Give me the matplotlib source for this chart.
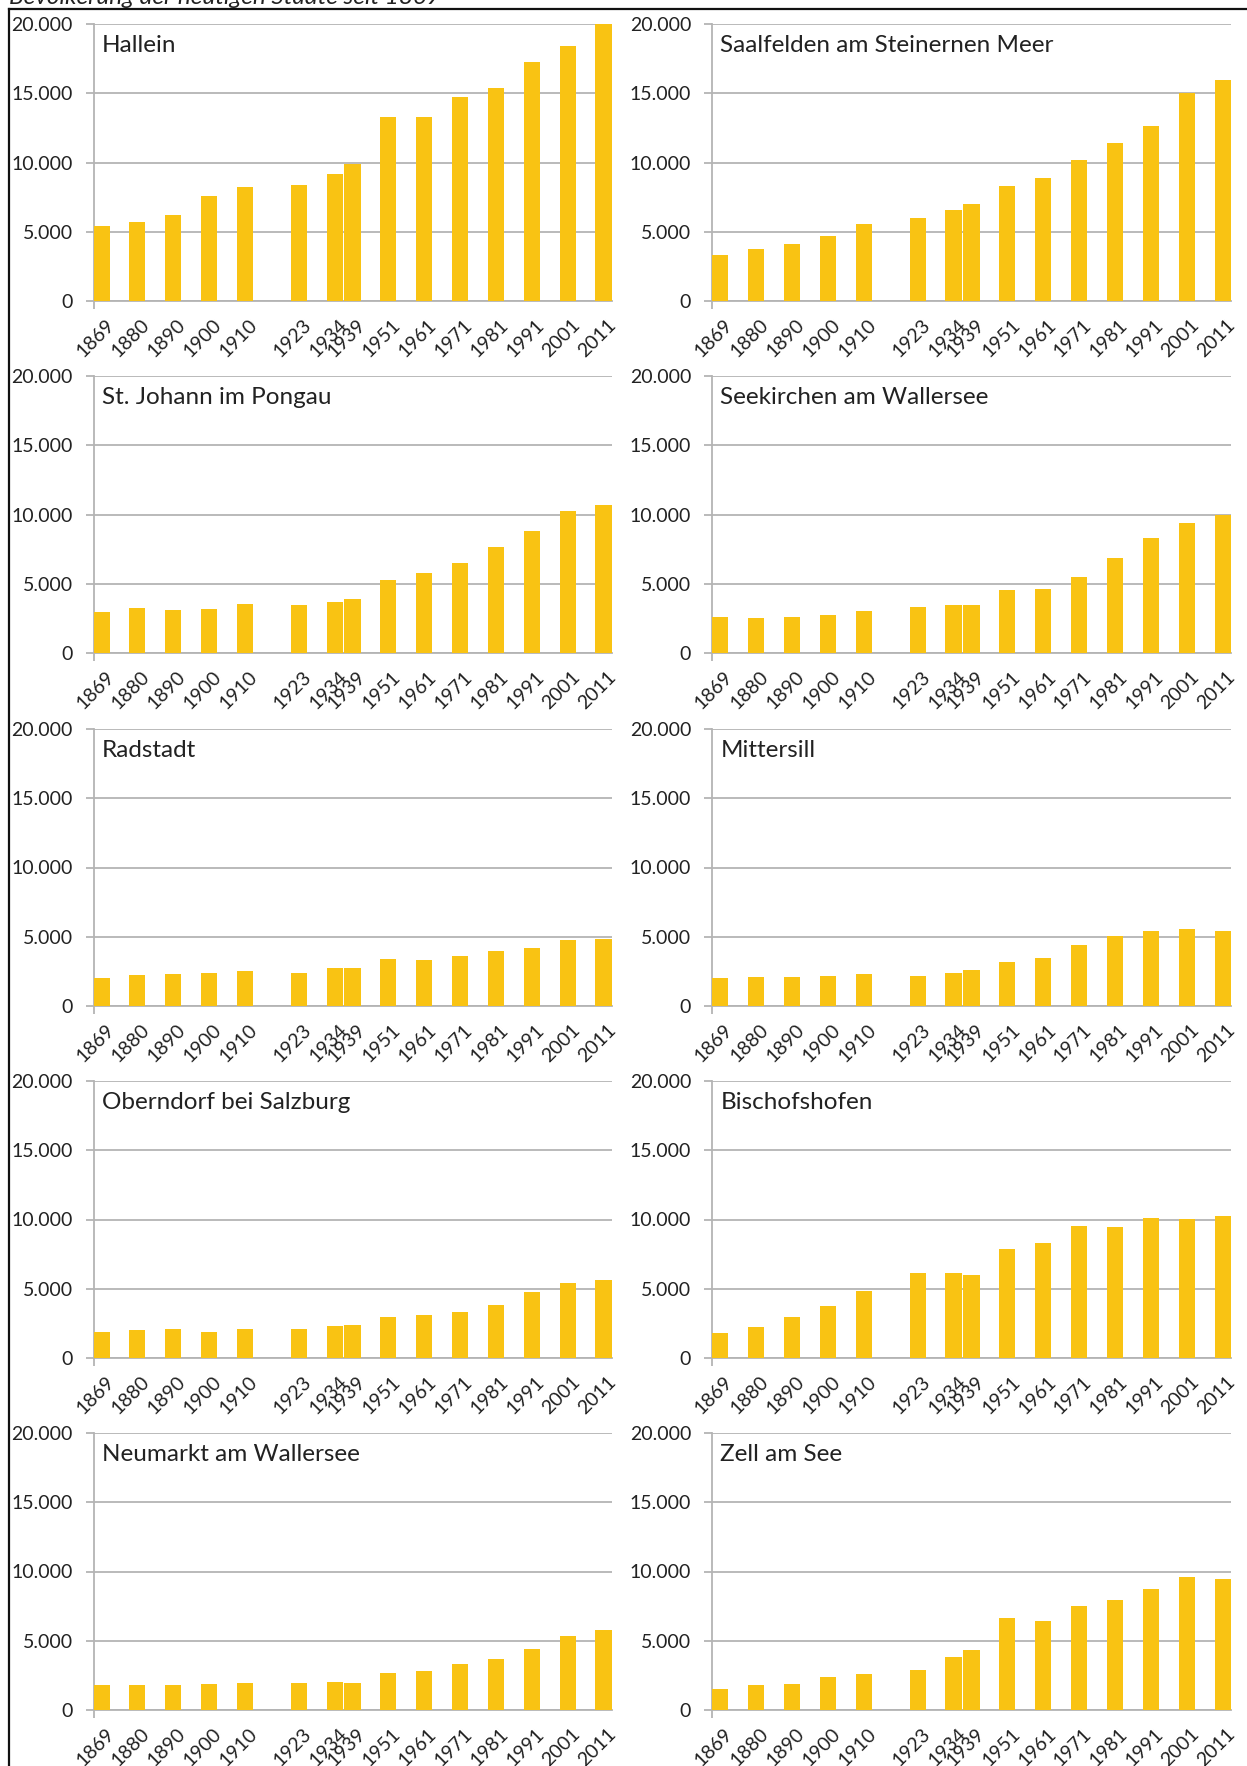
import matplotlib.pyplot as plt
from matplotlib.ticker import FuncFormatter
from matplotlib.lines import Line2D

plt.rcParams['font.family'] = ['Lato', 'DejaVu Sans']

# census years
years = ['1869', '1880', '1890', '1900', '1910', '1923', '1934', '1939',
         '1951', '1961', '1971', '1981', '1991', '2001', '2011']

# population per town
hallein = [5400, 5700, 6200, 7550, 8200, 8400, 9150, 9900,
           13300, 13300, 14700, 15400, 17250, 18400, 20000]
saalfelden = [3330, 3720, 4080, 4710, 5580, 6000, 6570, 7030,
              8300, 8890, 10200, 11430, 12600, 15050, 15950]
st_johann = [2970, 3260, 3120, 3160, 3530, 3430, 3700, 3890,
             5290, 5750, 6520, 7630, 8840, 10240, 10700]
seekirchen = [2590, 2550, 2590, 2720, 3050, 3320, 3440, 3440,
              4560, 4610, 5500, 6840, 8290, 9410, 9940]
radstadt = [2040, 2230, 2300, 2350, 2500, 2350, 2740, 2760,
            3420, 3320, 3640, 4000, 4190, 4730, 4870]
mittersill = [2010, 2060, 2110, 2200, 2320, 2200, 2370, 2610,
              3150, 3490, 4430, 5040, 5420, 5540, 5400]
oberndorf = [1910, 2010, 2100, 1910, 2100, 2060, 2320, 2370,
             2930, 3100, 3310, 3820, 4790, 5420, 5610]
bischofshofen = [1790, 2210, 2930, 3760, 4870, 6110, 6160, 6010,
                 7900, 8270, 9530, 9480, 10130, 10060, 10250]
neumarkt = [1770, 1770, 1770, 1860, 1960, 1980, 2030, 1960,
            2680, 2830, 3290, 3650, 4430, 5370, 5800]
zell = [1520, 1790, 1910, 2370, 2610, 2880, 3850, 4300,
        6650, 6410, 7500, 7910, 8730, 9600, 9480]

towns = [
    ('Hallein', hallein), ('Saalfelden am Steinernen Meer', saalfelden),
    ('St. Johann im Pongau', st_johann), ('Seekirchen am Wallersee', seekirchen),
    ('Radstadt', radstadt), ('Mittersill', mittersill),
    ('Oberndorf bei Salzburg', oberndorf), ('Bischofshofen', bischofshofen),
    ('Neumarkt am Wallersee', neumarkt), ('Zell am See', zell),
]

# axis slot for each census (Excel-style date axis spacing)
slots = [0, 1, 2, 3, 4, 5.5, 6.5, 7, 8, 9, 10, 11, 12, 13, 14]
BAR_W = 0.45
YELLOW = '#F9C313'
GRID = '#B4B4B4'

W, H = 1247, 1766
fig = plt.figure(figsize=(W / 100, H / 100), dpi=100)

col_x = [93.5, 712]
col_w = [518, 519]
row_zero = [301, 653, 1006, 1358, 1710]
plot_h = 277

fmt = FuncFormatter(lambda v, p: f'{int(v):,}'.replace(',', '.'))

for i, (name, vals) in enumerate(towns):
    r, c = divmod(i, 2)
    ax = fig.add_axes([col_x[c] / W, 1 - row_zero[r] / H, col_w[c] / W, plot_h / H])
    ax.bar(slots, vals, width=BAR_W, align='edge', color=YELLOW, edgecolor='none', zorder=3)
    ax.set_xlim(0, 14 + BAR_W)
    ax.set_ylim(0, 20000)
    ax.set_yticks([0, 5000, 10000, 15000, 20000])
    ax.yaxis.set_major_formatter(fmt)
    ax.grid(axis='y', color=GRID, lw=1.3, zorder=0)
    ax.set_axisbelow(True)
    for s in ['top', 'right']:
        ax.spines[s].set_visible(False)
    for s in ['left', 'bottom']:
        ax.spines[s].set_color(GRID)
        ax.spines[s].set_linewidth(1.3)

    ax.set_xticks([s + BAR_W / 2 + 0.1 for s in slots])
    ax.set_xticklabels(years, rotation=45, ha='right', va='top',
                       rotation_mode='anchor', fontsize=14, color='#222222')
    ax.tick_params(axis='x', which='major', length=0, pad=11)
    ax.set_xticks([0], minor=True)
    ax.tick_params(axis='x', which='minor', length=6, width=1.3, color=GRID)
    ax.tick_params(axis='y', length=6, width=1.3, color=GRID, pad=9,
                   labelsize=14, labelcolor='#222222')

    ax.text(0.016, 0.962, name, transform=ax.transAxes, ha='left', va='top',
            fontsize=17.5, color='#222222')

# outer frame lines
fig.add_artist(Line2D([9 / W, 1], [1 - 9 / H, 1 - 9 / H], color='#111111', lw=1.6,
                      transform=fig.transFigure))
fig.add_artist(Line2D([9 / W, 9 / W], [0, 1 - 9 / H], color='#111111', lw=1.6,
                      transform=fig.transFigure))

fig.text(9 / W, 1 - 4 / H, 'Bevölkerung der heutigen Städte seit 1869', style='italic',
         fontsize=17.5, ha='left', va='baseline', color='#222222')

fig.savefig('out.png', dpi=100)
